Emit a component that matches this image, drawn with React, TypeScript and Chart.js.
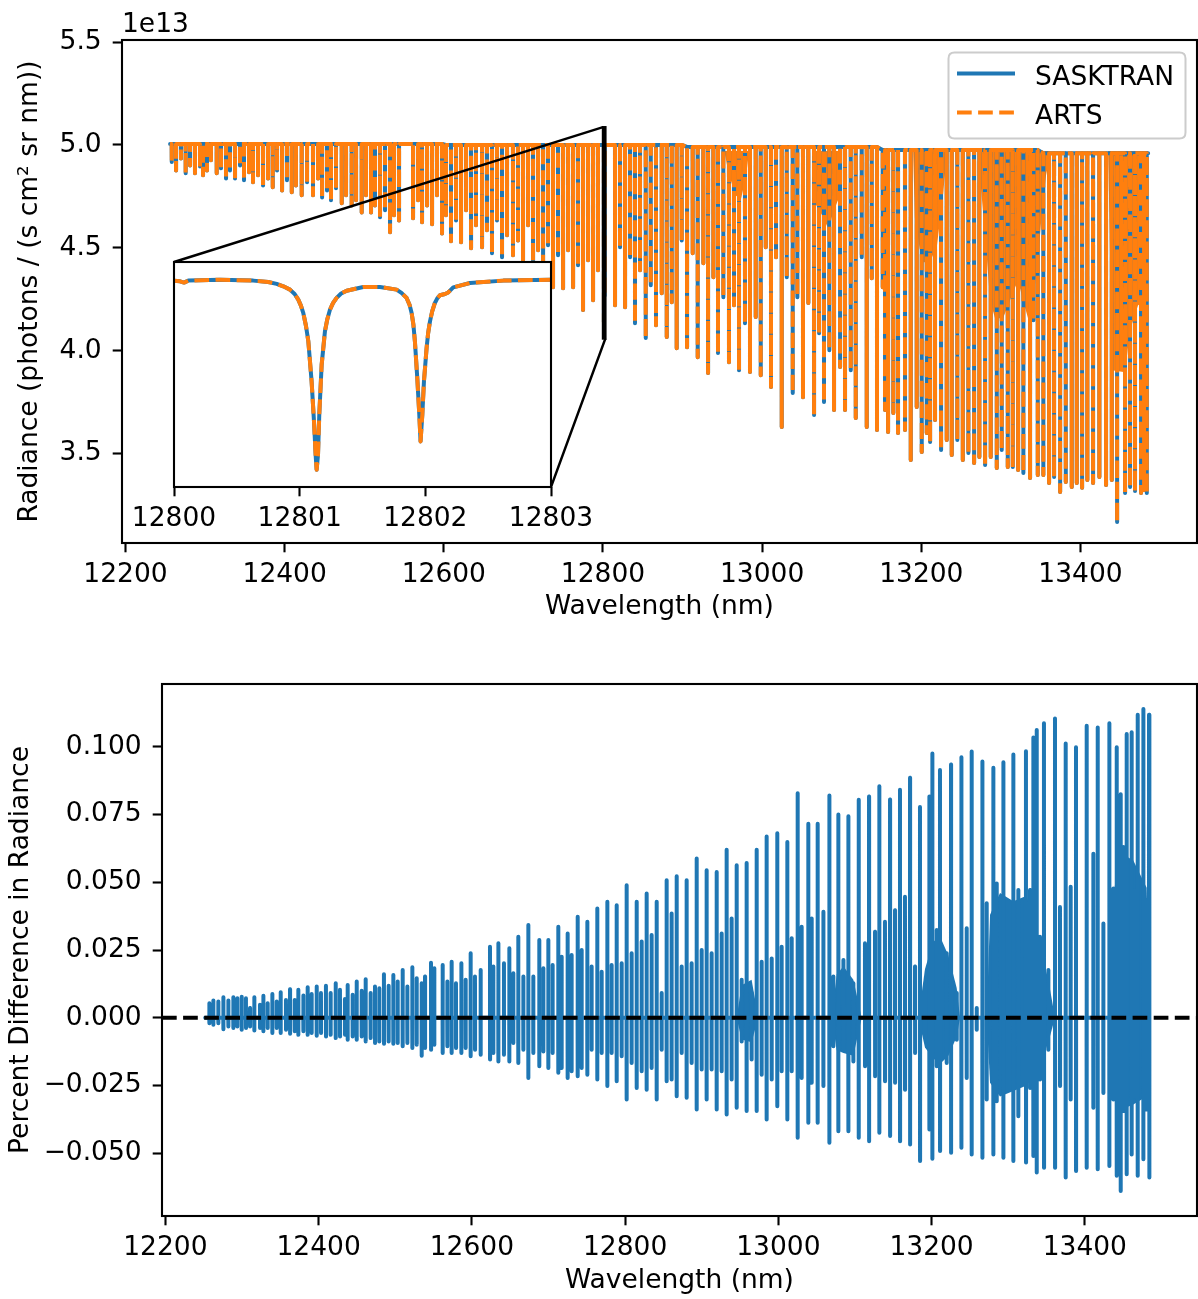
import React, { useEffect, useRef } from "react";
import { Chart, registerables } from "chart.js";

Chart.register(...registerables);

const FONT = "'DejaVu Sans', 'Liberation Sans', sans-serif";
const FONT_SIZE = 26.5;
const BLUE = "#1f77b4";
const ORANGE = "#ff7f0e";
const LW = 4;
const DASH = [14.7, 6.4];

// ---------- text ----------
const seriesLabels = ["SASKTRAN", "ARTS"];
const offsetLabel = "1e13";
const xTitle = "Wavelength (nm)";
const topYTitle = "Radiance (photons / (s cm\u00b2 sr nm))";
const bottomYTitle = "Percent Difference in Radiance";

// ---------- ticks ----------
const wavelengthTicks = [12200, 12400, 12600, 12800, 13000, 13200, 13400];
const radianceTicks = [3.5, 4.0, 4.5, 5.0, 5.5];
const percentTicks = [-0.05, -0.025, 0, 0.025, 0.05, 0.075, 0.1];
const insetTicks = [12800, 12801, 12802, 12803];

// ---------- axis ranges ----------
const wavelengthRange = [12195.6, 13546.4];
const radianceRange = [3.065, 5.51];
const percentRange = [-0.0731, 0.1231];
const insetRange = [12800, 12803];
const insetRadianceRange = [4.059, 5.086];

// ---------- radiance spectrum (units of 1e13) ----------
const spectrumStart = 12256;
const spectrumEnd = 13485;
const continuumFrom = [12256, 12600, 12900, 13150, 13350];
const continuumLevel = [5.005, 5.0, 4.99, 4.975, 4.96];

const strongCenters = [
  12258.1, 12263.5, 12275.6, 12287.3, 12297.4, 12302.4, 12314.6, 12326.3, 12337.6, 12348.9,
  12360.2, 12372.8, 12385.0, 12396.7, 12408.9, 12421.4, 12435.6, 12447.0, 12458.2, 12471.7,
  12484.2, 12496.8, 12508.5, 12519.8, 12532.4, 12543.7, 12561.3, 12572.6, 12585.2, 12597.7,
  12609.0, 12621.6, 12634.2, 12648.0, 12660.5, 12673.1, 12686.9, 12699.5, 12712.1, 12724.7,
  12737.2, 12749.8, 12762.4, 12774.9, 12787.5, 12815.1, 12827.7, 12840.2, 12853.7, 12866.6,
  12880.1, 12892.6, 12905.6, 12919.0, 12932.0, 12944.5, 12958.3, 12970.9, 12984.7, 12998.2,
  13011.1, 13024.6, 13038.4, 13051.3, 13065.2, 13077.7, 13090.3, 13104.1, 13117.6, 13131.4,
  13144.3, 13158.2, 13170.7, 13186.7, 13200.5, 13211.0, 13224.8, 13238.2, 13252.1, 13266.3,
  13280.1, 13294.8, 13308.6, 13321.6, 13336.6, 13346.3, 13360.5, 13374.4, 13389.0, 13402.0,
  13415.8, 13432.1, 13446.0, 13456.0, 13468.5, 13476.1, 13483.3,
];
const strongMinima = [
  4.917, 4.876, 4.862, 4.862, 4.852, 4.876, 4.862, 4.837, 4.837, 4.828,
  4.818, 4.803, 4.794, 4.779, 4.770, 4.755, 4.755, 4.745, 4.731, 4.716,
  4.706, 4.672, 4.672, 4.648, 4.575, 4.633, 4.643, 4.624, 4.614, 4.570,
  4.532, 4.527, 4.498, 4.502, 4.473, 4.454, 4.464, 4.439, 4.430, 4.430,
  4.308, 4.303, 4.308, 4.197, 4.245, 4.221, 4.211, 4.133, 4.061, 4.124,
  4.066, 4.012, 4.017, 3.968, 3.891, 3.988, 3.944, 3.905, 3.896, 3.881,
  3.823, 3.629, 3.794, 3.774, 3.687, 3.750, 3.711, 3.711, 3.672, 3.629,
  3.614, 3.604, 3.600, 3.469, 3.507, 3.556, 3.517, 3.493, 3.469, 3.454,
  3.444, 3.430, 3.434, 3.420, 3.381, 3.396, 3.357, 3.313, 3.337, 3.333,
  3.357, 3.347, 3.167, 3.308, 3.318, 3.308, 3.308,
];
const weakCenters = [
  12269.7, 12281.1, 12293.6, 12307.4, 12320.0, 12331.3, 12343.9, 12355.2, 12366.5, 12379.1,
  12390.4, 12402.9, 12414.2, 12428.1, 12441.9, 12453.2, 12464.5, 12477.1, 12489.7, 12502.2,
  12513.5, 12526.1, 12537.4,
  12567.6, 12578.9, 12591.4, 12602.7, 12615.3, 12627.9, 12640.4, 12654.2, 12666.8, 12679.4,
  12693.2, 12705.8, 12718.4, 12730.9, 12743.5, 12756.1, 12768.6, 12781.2, 12793.7,
  12821.4, 12834.0, 12846.5, 12860.0, 12873.8, 12886.4, 12898.9, 12912.7, 12926.1, 12938.7,
  12951.2, 12964.6, 12978.4, 12991.9, 13004.5, 13017.4, 13030.9, 13044.2, 13058.0, 13071.5,
  13084.4, 13097.9, 13111.3, 13125.1, 13137.7, 13151.5, 13164.8,
  13154.4, 13179.5, 13194.2, 13206.8, 13217.2, 13231.9, 13245.2, 13259.1, 13272.9, 13287.2,
  13301.0, 13314.9, 13328.2, 13340.8, 13353.3, 13366.8, 13381.5, 13395.3, 13408.6, 13423.7,
  13439.3, 13462.3, 13479.9,
];
const weakMinima = [
  4.934, 4.900, 4.895, 4.925, 4.886, 4.876, 4.900, 4.867, 4.852, 4.837,
  4.876, 4.828, 4.803, 4.818, 4.837, 4.779, 4.789, 4.755, 4.731, 4.755,
  4.706, 4.682, 4.658,
  4.731, 4.706, 4.755, 4.658, 4.633, 4.682, 4.609, 4.585, 4.633, 4.561,
  4.536, 4.609, 4.488, 4.512, 4.464, 4.488, 4.415, 4.439, 4.391,
  4.502, 4.454, 4.391, 4.318, 4.279, 4.235, 4.536, 4.473, 4.425, 4.357,
  4.260, 4.221, 4.133, 4.163, 4.502, 4.454, 4.357, 4.260, 4.231, 4.085,
  4.002, 3.920, 3.905, 4.454, 4.352, 4.308, 3.697,
  3.711, 3.614, 3.726, 3.600, 3.663, 3.566, 3.566, 3.502, 3.483, 3.483,
  3.517, 3.434, 3.405, 4.148, 3.396, 3.386, 3.362, 3.357, 3.371, 3.386,
  3.371, 3.337, 3.323,
];
const insetLineCenters = [12801.135, 12801.962];
const insetLineMinima = [4.138, 4.267];

// dense line clusters (envelope of the blended region)
const clusterWavelengths = [
  [12950.9, 12957.2, 12966.0, 12973.6, 12979.9, 12983.6],
  [13062.7, 13066.5, 13075.3, 13082.8, 13090.3, 13096.6, 13100.4],
  [13189.6, 13192.1, 13200.9, 13210.9, 13219.7, 13227.2, 13232.3],
  [13271.3, 13276.3, 13282.6, 13286.3, 13292.6, 13302.7, 13311.5, 13321.5, 13327.8, 13334.1, 13340.4, 13346.6, 13351.7, 13356.7, 13361.7],
  [13434.6, 13437.1, 13439.6, 13456.0, 13462.2, 13472.3, 13484.8, 13485.0],
];
const clusterRadiance = [
  [4.998, 4.876, 4.755, 4.740, 4.852, 4.973],
  [4.993, 4.716, 4.658, 4.595, 4.682, 4.745, 4.983],
  [4.973, 4.633, 4.430, 4.430, 4.512, 4.755, 4.964],
  [4.964, 4.731, 4.439, 4.245, 4.158, 4.158, 4.245, 4.342, 4.245, 4.158, 4.245, 4.439, 4.682, 4.852, 4.949],
  [4.964, 4.488, 3.905, 3.895, 4.099, 4.221, 4.245, 4.960],
];
const clusterTop = 4.97;

// ---------- inset (zoom 12800-12803 nm) ----------
const insetWavelengths = [
  12800.000, 12800.048, 12800.080, 12800.114, 12800.366, 12800.631, 12800.750, 12800.817, 12800.870, 12800.923,
  12800.960, 12800.989, 12801.010, 12801.029, 12801.050, 12801.069, 12801.095, 12801.114, 12801.127, 12801.135,
  12801.146, 12801.156, 12801.175, 12801.201, 12801.220, 12801.241, 12801.265, 12801.294, 12801.330, 12801.374,
  12801.506, 12801.639, 12801.771, 12801.810, 12801.851, 12801.875, 12801.891, 12801.905, 12801.917, 12801.936,
  12801.952, 12801.962, 12801.976, 12801.989, 12802.010, 12802.022, 12802.037, 12802.055, 12802.076, 12802.095,
  12802.116, 12802.156, 12802.182, 12802.222, 12802.355, 12802.620, 12803.000,
];
const insetRadiance = [
  5.001, 4.998, 4.992, 5.001, 5.005, 5.001, 4.995, 4.986, 4.975, 4.960,
  4.940, 4.914, 4.887, 4.853, 4.795, 4.724, 4.541, 4.358, 4.206, 4.138,
  4.206, 4.389, 4.617, 4.769, 4.825, 4.868, 4.898, 4.922, 4.942, 4.955,
  4.972, 4.972, 4.960, 4.945, 4.922, 4.890, 4.853, 4.800, 4.724, 4.556,
  4.389, 4.267, 4.389, 4.541, 4.693, 4.760, 4.815, 4.862, 4.899, 4.920,
  4.934, 4.940, 4.947, 4.970, 4.990, 5.001, 5.005,
];

// ---------- percent difference ----------
const diffStart = 12252;
const diffEnd = 13485;
const diffWavelengths = [
  12257.4, 12262.6, 12269.1, 12275.7, 12282.2, 12288.7, 12293.9, 12299.6, 12305.2, 12310.5,
  12316.1, 12323.5, 12327.9, 12333.5, 12339.6, 12345.3, 12350.5, 12357.4, 12362.7, 12368.8,
  12373.5, 12380.1, 12385.7, 12390.9, 12397.5, 12403.1, 12409.6, 12415.7, 12422.3, 12427.9,
  12434.4, 12437.9, 12444.4, 12449.7, 12456.2, 12461.4, 12467.9, 12473.6, 12479.2, 12485.3,
  12491.4, 12497.5, 12503.2, 12509.7, 12515.8, 12522.3, 12528.0, 12534.5, 12538.9, 12546.7,
  12551.0, 12561.9, 12568.0, 12573.6, 12579.3, 12586.3, 12591.9, 12598.4, 12604.1, 12611.5,
  12623.7, 12628.0, 12634.6, 12641.9, 12648.9, 12654.1, 12660.6, 12667.2, 12673.7, 12680.2,
  12688.0, 12693.3, 12699.8, 12705.4, 12712.8, 12717.2, 12725.0, 12730.2, 12738.1, 12743.3,
  12750.7, 12756.3, 12763.7, 12769.4, 12776.8, 12782.4, 12789.0, 12795.5, 12802.0, 12808.5,
  12815.1, 12821.6, 12828.1, 12834.6, 12841.2, 12847.7, 12854.2, 12860.7, 12867.3, 12873.8,
  12880.3, 12886.8, 12893.4, 12899.9, 12906.4, 12912.9, 12919.5, 12926.0, 12932.5, 12939.0,
  12945.6, 12952.1, 12958.6, 12965.1, 12971.7, 12978.2, 12984.7, 12991.3, 12998.6, 13004.3,
  13011.7, 13017.4, 13025.2, 13030.4, 13039.1, 13043.5, 13051.3, 13058.8, 13066.6, 13071.8,
  13078.3, 13084.9, 13091.4, 13097.9, 13104.9, 13113.1, 13118.4, 13126.2, 13131.8, 13139.2,
  13145.8, 13152.3, 13158.8, 13165.3, 13171.9, 13178.4, 13184.9, 13197.1, 13201.0, 13206.7,
  13211.0, 13219.7, 13225.4, 13232.8, 13238.9, 13245.8, 13252.3, 13258.9, 13266.3, 13271.9,
  13280.6, 13285.0, 13293.7, 13306.7, 13313.2, 13323.2, 13328.5, 13332.8, 13337.2, 13341.5,
  13346.7, 13352.4, 13361.1, 13367.6, 13375.0, 13381.5, 13388.5, 13402.4, 13411.1, 13416.8,
  13424.2, 13432.0, 13437.2, 13441.6, 13446.8, 13450.3, 13454.6, 13461.1, 13465.5, 13469.0,
  13476.4, 13480.7, 13483.8,
];
const diffUpper = [
  0.0054, 0.0064, 0.0060, 0.0076, 0.0064, 0.0076, 0.0072, 0.0078, 0.0072, 0.0036,
  0.0076, 0.0048, 0.0081, 0.0054, 0.0088, 0.0060, 0.0094, 0.0066, 0.0105, 0.0066,
  0.0103, 0.0082, 0.0113, 0.0088, 0.0115, 0.0091, 0.0118, 0.0091, 0.0127, 0.0103,
  0.0069, 0.0121, 0.0085, 0.0134, 0.0100, 0.0142, 0.0091, 0.0115, 0.0109, 0.0161,
  0.0118, 0.0158, 0.0134, 0.0176, 0.0115, 0.0186, 0.0146, 0.0127, 0.0152, 0.0203,
  0.0183, 0.0195, 0.0134, 0.0207, 0.0127, 0.0201, 0.0140, 0.0238, 0.0152, 0.0176,
  0.0262, 0.0189, 0.0275, 0.0201, 0.0256, 0.0164, 0.0299, 0.0152, 0.0342, 0.0152,
  0.0287, 0.0183, 0.0287, 0.0195, 0.0336, 0.0225, 0.0311, 0.0232, 0.0373, 0.0250,
  0.0354, 0.0189, 0.0403, 0.0170, 0.0428, 0.0195, 0.0415, 0.0201, 0.0489, 0.0238,
  0.0428, 0.0281, 0.0458, 0.0305, 0.0428, 0.0091, 0.0507, 0.0385, 0.0522, 0.0189,
  0.0507, 0.0201, 0.0587, 0.0250, 0.0544, 0.0238, 0.0538, 0.0311, 0.0620, 0.0366,
  0.0563, 0.0140, 0.0571, 0.0091, 0.0620, 0.0207, 0.0669, 0.0219, 0.0681, 0.0262,
  0.0648, 0.0293, 0.0828, 0.0336, 0.0716, 0.0366, 0.0716, 0.0391, 0.0820, 0.0152,
  0.0750, 0.0213, 0.0743, 0.0127, 0.0804, 0.0275, 0.0816, 0.0317, 0.0854, 0.0354,
  0.0805, 0.0397, 0.0841, 0.0446, 0.0885, 0.0189, 0.0777, 0.0816, 0.0975, 0.0324,
  0.0914, 0.0238, 0.0934, 0.0091, 0.0961, 0.0330, 0.0982, 0.0036, 0.0945, 0.0422,
  0.0922, 0.0495, 0.0942, 0.0971, 0.0471, 0.0983, 0.0471, 0.1034, 0.1061, 0.0299,
  0.1086, 0.0176, 0.1104, 0.0409, 0.1012, 0.0483, 0.0998, 0.1077, 0.0605, 0.1071,
  0.0348, 0.1086, 0.0477, 0.0998, 0.0824, 0.0630, 0.1047, 0.1053, 0.0471, 0.1118,
  0.1139, 0.0434, 0.1118,
];
const diffLower = [
  -0.0020, -0.0026, -0.0020, -0.0042, -0.0032, -0.0038, -0.0032, -0.0044, -0.0038, -0.0032,
  -0.0047, -0.0038, -0.0050, -0.0038, -0.0056, -0.0038, -0.0056, -0.0044, -0.0059, -0.0050,
  -0.0063, -0.0050, -0.0063, -0.0056, -0.0066, -0.0056, -0.0069, -0.0063, -0.0075, -0.0069,
  -0.0063, -0.0081, -0.0069, -0.0081, -0.0069, -0.0087, -0.0075, -0.0093, -0.0087, -0.0096,
  -0.0087, -0.0096, -0.0093, -0.0105, -0.0093, -0.0111, -0.0099, -0.0140, -0.0111, -0.0118,
  -0.0099, -0.0130, -0.0105, -0.0130, -0.0111, -0.0130, -0.0111, -0.0142, -0.0118, -0.0136,
  -0.0154, -0.0130, -0.0161, -0.0136, -0.0161, -0.0093, -0.0167, -0.0118, -0.0222, -0.0130,
  -0.0179, -0.0124, -0.0185, -0.0130, -0.0203, -0.0185, -0.0222, -0.0197, -0.0216, -0.0185,
  -0.0210, -0.0118, -0.0228, -0.0130, -0.0252, -0.0130, -0.0234, -0.0142, -0.0301, -0.0167,
  -0.0259, -0.0197, -0.0265, -0.0185, -0.0301, -0.0118, -0.0234, -0.0228, -0.0289, -0.0130,
  -0.0295, -0.0167, -0.0338, -0.0191, -0.0301, -0.0191, -0.0338, -0.0197, -0.0357, -0.0228,
  -0.0332, -0.0087, -0.0344, -0.0154, -0.0344, -0.0210, -0.0375, -0.0228, -0.0326, -0.0197,
  -0.0375, -0.0197, -0.0442, -0.0222, -0.0387, -0.0240, -0.0387, -0.0252, -0.0461, -0.0105,
  -0.0418, -0.0118, -0.0418, -0.0161, -0.0442, -0.0179, -0.0455, -0.0216, -0.0424, -0.0234,
  -0.0436, -0.0240, -0.0455, -0.0265, -0.0467, -0.0130, -0.0528, -0.0412, -0.0520, -0.0179,
  -0.0491, -0.0167, -0.0498, -0.0081, -0.0479, -0.0222, -0.0504, -0.0044, -0.0516, -0.0301,
  -0.0504, -0.0308, -0.0516, -0.0528, -0.0363, -0.0534, -0.0259, -0.0510, -0.0571, -0.0228,
  -0.0553, -0.0118, -0.0553, -0.0252, -0.0589, -0.0301, -0.0565, -0.0553, -0.0332, -0.0559,
  -0.0277, -0.0547, -0.0301, -0.0583, -0.0639, -0.0344, -0.0577, -0.0504, -0.0289, -0.0583,
  -0.0522, -0.0338, -0.0589,
];
const diffClusterWavelengths = [
  [12945.6, 12952.1, 12965.1, 12973.8],
  [13069.6, 13076.2, 13084.9, 13097.9, 13108.8],
  [13182.7, 13191.4, 13202.3, 13211.0, 13221.9, 13232.8, 13237.1],
  [13271.9, 13276.3, 13289.3, 13306.7, 13324.1, 13339.4, 13352.4, 13361.1],
  [13432.9, 13437.2, 13446.0, 13463.3, 13480.7, 13485.0],
];
const diffClusterUpper = [
  [0, 0.012, 0.014, 0],
  [0, 0.016, 0.019, 0.014, 0],
  [0, 0.018, 0.028, 0.030, 0.023, 0.011, 0],
  [0, 0.038, 0.046, 0.043, 0.045, 0.028, 0.014, 0],
  [0, 0.045, 0.061, 0.058, 0.048, 0],
];
const diffClusterLower = [
  [0, -0.008, -0.009, 0],
  [0, -0.012, -0.013, -0.014, 0],
  [0, -0.011, -0.015, -0.017, -0.014, -0.007, 0],
  [0, -0.024, -0.029, -0.027, -0.025, -0.019, -0.009, 0],
  [0, -0.029, -0.034, -0.032, -0.029, 0],
];

// ---------- layout (pixels) ----------
const PAGE_W = 1198;
const TOP_H = 640;
const BOTTOM_TOP = 650;
const BOTTOM_H = 649;
const INSET_CANVAS = { left: 100, top: 240, width: 520, height: 310 };
const INSET_BOX = { left: 174, top: 262, right: 551, bottom: 487 };

// ---------- helpers ----------
function continuumAt(w: number) {
  let level = continuumLevel[0];
  for (let i = 0; i < continuumFrom.length; i++) if (w >= continuumFrom[i]) level = continuumLevel[i];
  return level;
}

function buildSpectrum() {
  const centers = [...strongCenters, ...weakCenters, ...insetLineCenters];
  const minima = [...strongMinima, ...weakMinima, ...insetLineMinima];
  const idx = centers.map((_, i) => i).sort((a, b) => centers[a] - centers[b]);
  const pts: { x: number; y: number }[] = [{ x: spectrumStart, y: continuumAt(spectrumStart) }];
  for (const i of idx) {
    const c = centers[i];
    const top = continuumAt(c);
    pts.push({ x: c - 0.06, y: top }, { x: c, y: minima[i] }, { x: c + 0.06, y: top });
  }
  pts.push({ x: spectrumEnd, y: continuumAt(spectrumEnd) });
  return pts;
}

function buildDiff() {
  const n = Math.min(diffWavelengths.length, diffUpper.length, diffLower.length);
  const pts: { x: number; y: number }[] = [{ x: diffStart, y: 0 }];
  for (let i = 0; i < n; i++) {
    const c = diffWavelengths[i];
    pts.push({ x: c - 0.12, y: 0 }, { x: c - 0.04, y: diffUpper[i] }, { x: c + 0.04, y: diffLower[i] }, { x: c + 0.12, y: 0 });
  }
  pts.push({ x: diffEnd, y: 0 });
  return pts;
}

const zip = (xs: number[], ys: number[]) => xs.map((x, i) => ({ x, y: ys[i] }));

const tickFont = { family: FONT, size: FONT_SIZE };
const titleFont = { family: FONT, size: FONT_SIZE, lineHeight: 1.16 };
const TITLE_HALF = (FONT_SIZE * 1.16) / 2;
const gridStyle = {
  display: true,
  drawOnChartArea: false,
  drawTicks: true,
  tickLength: 9.3,
  tickWidth: 2.1,
  tickColor: "#000",
  color: "#000",
};

function xScale(range: number[], ticks: number[], height: number, title: string | null, titleCenterFromBottom: number) {
  return {
    type: "linear",
    min: range[0],
    max: range[1],
    afterBuildTicks: (s: any) => {
      s.ticks = ticks.map((v) => ({ value: v }));
    },
    afterFit: (s: any) => {
      s.height = height;
    },
    grid: gridStyle,
    border: { display: false },
    ticks: {
      color: "#000",
      font: tickFont,
      padding: 7,
      autoSkip: false,
      maxRotation: 0,
      minRotation: 0,
      callback: (v: any) => String(v),
    },
    title: title
      ? {
          display: true,
          text: title,
          color: "#000",
          font: titleFont,
          padding: { top: 0, bottom: Math.max(0, titleCenterFromBottom - TITLE_HALF) },
        }
      : { display: false },
  };
}

function yScale(range: number[], ticks: number[], width: number, title: string, titleCenterX: number, fmt: (v: number) => string) {
  return {
    type: "linear",
    min: range[0],
    max: range[1],
    afterBuildTicks: (s: any) => {
      s.ticks = ticks.map((v) => ({ value: v }));
    },
    afterFit: (s: any) => {
      s.width = width;
    },
    grid: gridStyle,
    border: { display: false },
    ticks: { color: "#000", font: tickFont, padding: 11, autoSkip: false, callback: (v: any) => fmt(Number(v)) },
    title: {
      display: true,
      text: title,
      color: "#000",
      font: titleFont,
      padding: { top: Math.max(0, titleCenterX - TITLE_HALF), bottom: 0 },
    },
  };
}

function framePlugin(id: string, whiteBg: boolean) {
  return {
    id,
    beforeDraw(chart: any) {
      if (!whiteBg) return;
      const { ctx, chartArea: a } = chart;
      ctx.save();
      ctx.fillStyle = "#ffffff";
      ctx.fillRect(a.left, a.top, a.right - a.left, a.bottom - a.top);
      ctx.restore();
    },
    afterDatasetsDraw(chart: any) {
      const { ctx, chartArea: a } = chart;
      ctx.save();
      ctx.strokeStyle = "#000";
      ctx.lineWidth = 2.1;
      ctx.strokeRect(a.left, a.top, a.right - a.left, a.bottom - a.top);
      ctx.restore();
    },
  };
}

const topOverlayPlugin = {
  id: "topOverlay",
  afterDatasetsDraw(chart: any) {
    const { ctx } = chart;
    const xs = chart.scales.x;
    const ys = chart.scales.y;
    const x1 = xs.getPixelForValue(insetRange[0]);
    const x2 = xs.getPixelForValue(insetRange[1]);
    const y1 = ys.getPixelForValue(insetRadianceRange[1]);
    const y2 = ys.getPixelForValue(insetRadianceRange[0]);
    ctx.save();
    ctx.strokeStyle = "#000";
    ctx.lineWidth = 2.4;
    ctx.strokeRect(x1, y1, x2 - x1, y2 - y1);
    ctx.beginPath();
    ctx.moveTo(INSET_BOX.left, INSET_BOX.top);
    ctx.lineTo(x1, y1);
    ctx.moveTo(INSET_BOX.right, INSET_BOX.bottom);
    ctx.lineTo(x2, y2);
    ctx.stroke();
    ctx.restore();
  },
  afterDraw(chart: any) {
    const { ctx, chartArea } = chart;
    ctx.save();
    ctx.fillStyle = "#000";
    ctx.font = `${FONT_SIZE}px ${FONT}`;
    ctx.textAlign = "left";
    ctx.textBaseline = "alphabetic";
    ctx.fillText(offsetLabel, chartArea.left, 31.5);
    // legend box
    const bx = 948.5, by = 52.5, bw = 237, bh = 86, r = 6;
    ctx.beginPath();
    ctx.moveTo(bx + r, by);
    ctx.lineTo(bx + bw - r, by);
    ctx.quadraticCurveTo(bx + bw, by, bx + bw, by + r);
    ctx.lineTo(bx + bw, by + bh - r);
    ctx.quadraticCurveTo(bx + bw, by + bh, bx + bw - r, by + bh);
    ctx.lineTo(bx + r, by + bh);
    ctx.quadraticCurveTo(bx, by + bh, bx, by + bh - r);
    ctx.lineTo(bx, by + r);
    ctx.quadraticCurveTo(bx, by, bx + r, by);
    ctx.closePath();
    ctx.fillStyle = "rgba(255,255,255,0.8)";
    ctx.fill();
    ctx.strokeStyle = "#cccccc";
    ctx.lineWidth = 2;
    ctx.stroke();
    ctx.lineWidth = LW;
    ctx.strokeStyle = BLUE;
    ctx.beginPath();
    ctx.moveTo(957, 73.5);
    ctx.lineTo(1015, 73.5);
    ctx.stroke();
    ctx.strokeStyle = ORANGE;
    ctx.setLineDash(DASH);
    ctx.beginPath();
    ctx.moveTo(957, 112.5);
    ctx.lineTo(1015, 112.5);
    ctx.stroke();
    ctx.setLineDash([]);
    ctx.fillStyle = "#000";
    ctx.fillText(seriesLabels[0], 1035, 84.5);
    ctx.fillText(seriesLabels[1], 1035, 123.5);
    ctx.restore();
  },
};

function lineDataset(label: string, data: any[], color: string, dashed: boolean, order: number) {
  return {
    label,
    data,
    borderColor: color,
    backgroundColor: color,
    borderWidth: LW,
    borderDash: dashed ? DASH : [],
    borderJoinStyle: "round",
    borderCapStyle: dashed ? "butt" : "round",
    pointRadius: 0,
    tension: 0,
    fill: false,
    order,
  };
}

function fillDataset(data: any[], color: string, fill: any, order: number) {
  return {
    data,
    borderWidth: 0,
    borderColor: "rgba(0,0,0,0)",
    backgroundColor: color,
    pointRadius: 0,
    tension: 0,
    fill,
    order,
  };
}

const baseOptions = {
  responsive: false,
  maintainAspectRatio: false,
  animation: false,
  devicePixelRatio: 1,
  events: [],
  plugins: { legend: { display: false }, tooltip: { enabled: false } },
};

function topConfig(): any {
  const spectrum = buildSpectrum();
  const clusters = clusterWavelengths.map((ws, i) =>
    fillDataset(zip(ws, clusterRadiance[i]), ORANGE, { value: clusterTop }, 2)
  );
  return {
    type: "line",
    data: {
      datasets: [
        lineDataset(seriesLabels[1], spectrum, ORANGE, true, 0),
        lineDataset(seriesLabels[0], spectrum, BLUE, false, 1),
        ...clusters,
      ],
    },
    options: {
      ...baseOptions,
      layout: { padding: { left: 0, top: 40, right: 1, bottom: 0 } },
      scales: {
        x: xScale(wavelengthRange, wavelengthTicks, TOP_H - 543, xTitle, TOP_H - 607),
        y: yScale(radianceRange, radianceTicks, 122, topYTitle, 30, (v) => v.toFixed(1)),
      },
    },
    plugins: [framePlugin("topFrame", false), topOverlayPlugin],
  };
}

function insetConfig(): any {
  const data = zip(insetWavelengths, insetRadiance);
  return {
    type: "line",
    data: {
      datasets: [
        lineDataset(seriesLabels[1], data, ORANGE, true, 0),
        lineDataset(seriesLabels[0], data, BLUE, false, 1),
      ],
    },
    options: {
      ...baseOptions,
      layout: {
        padding: {
          left: INSET_BOX.left - INSET_CANVAS.left,
          top: INSET_BOX.top - INSET_CANVAS.top,
          right: INSET_CANVAS.left + INSET_CANVAS.width - INSET_BOX.right,
          bottom: 0,
        },
      },
      scales: {
        x: xScale(insetRange, insetTicks, INSET_CANVAS.top + INSET_CANVAS.height - INSET_BOX.bottom, null, 0),
        y: { type: "linear", display: false, min: insetRadianceRange[0], max: insetRadianceRange[1] },
      },
    },
    plugins: [framePlugin("insetFrame", true)],
  };
}

function bottomConfig(): any {
  const diff = buildDiff();
  const fills: any[] = [];
  diffClusterWavelengths.forEach((ws, i) => {
    fills.push(fillDataset(zip(ws, diffClusterUpper[i]), BLUE, "origin", 2));
    fills.push(fillDataset(zip(ws, diffClusterLower[i]), BLUE, "origin", 2));
  });
  const zero = [
    { x: wavelengthRange[0], y: 0 },
    { x: wavelengthRange[1], y: 0 },
  ];
  return {
    type: "line",
    data: {
      datasets: [
        lineDataset("zero", zero, "#000000", true, 0),
        lineDataset("difference", diff, BLUE, false, 1),
        ...fills,
      ],
    },
    options: {
      ...baseOptions,
      layout: { padding: { left: 0, top: 684 - BOTTOM_TOP, right: 1, bottom: 0 } },
      scales: {
        x: xScale(wavelengthRange, wavelengthTicks, BOTTOM_TOP + BOTTOM_H - 1216, xTitle, BOTTOM_TOP + BOTTOM_H - 1281),
        y: yScale(percentRange, percentTicks, 162, bottomYTitle, 21, (v) =>
          (v < -1e-9 ? "\u2212" : "") + Math.abs(v).toFixed(3)
        ),
      },
    },
    plugins: [framePlugin("bottomFrame", false)],
  };
}

export default function App() {
  const topRef = useRef<HTMLCanvasElement>(null);
  const insetRef = useRef<HTMLCanvasElement>(null);
  const bottomRef = useRef<HTMLCanvasElement>(null);

  useEffect(() => {
    Chart.defaults.font.family = FONT;
    const charts = [
      new Chart(topRef.current as HTMLCanvasElement, topConfig()),
      new Chart(insetRef.current as HTMLCanvasElement, insetConfig()),
      new Chart(bottomRef.current as HTMLCanvasElement, bottomConfig()),
    ];
    return () => charts.forEach((c) => c.destroy());
  }, []);

  return (
    <div style={{ position: "absolute", left: 0, top: 0, width: PAGE_W, height: BOTTOM_TOP + BOTTOM_H, background: "#fff" }}>
      <canvas
        ref={topRef}
        width={PAGE_W}
        height={TOP_H}
        style={{ position: "absolute", left: 0, top: 0, width: PAGE_W, height: TOP_H }}
      />
      <canvas
        ref={insetRef}
        width={INSET_CANVAS.width}
        height={INSET_CANVAS.height}
        style={{
          position: "absolute",
          left: INSET_CANVAS.left,
          top: INSET_CANVAS.top,
          width: INSET_CANVAS.width,
          height: INSET_CANVAS.height,
        }}
      />
      <canvas
        ref={bottomRef}
        width={PAGE_W}
        height={BOTTOM_H}
        style={{ position: "absolute", left: 0, top: BOTTOM_TOP, width: PAGE_W, height: BOTTOM_H }}
      />
    </div>
  );
}
